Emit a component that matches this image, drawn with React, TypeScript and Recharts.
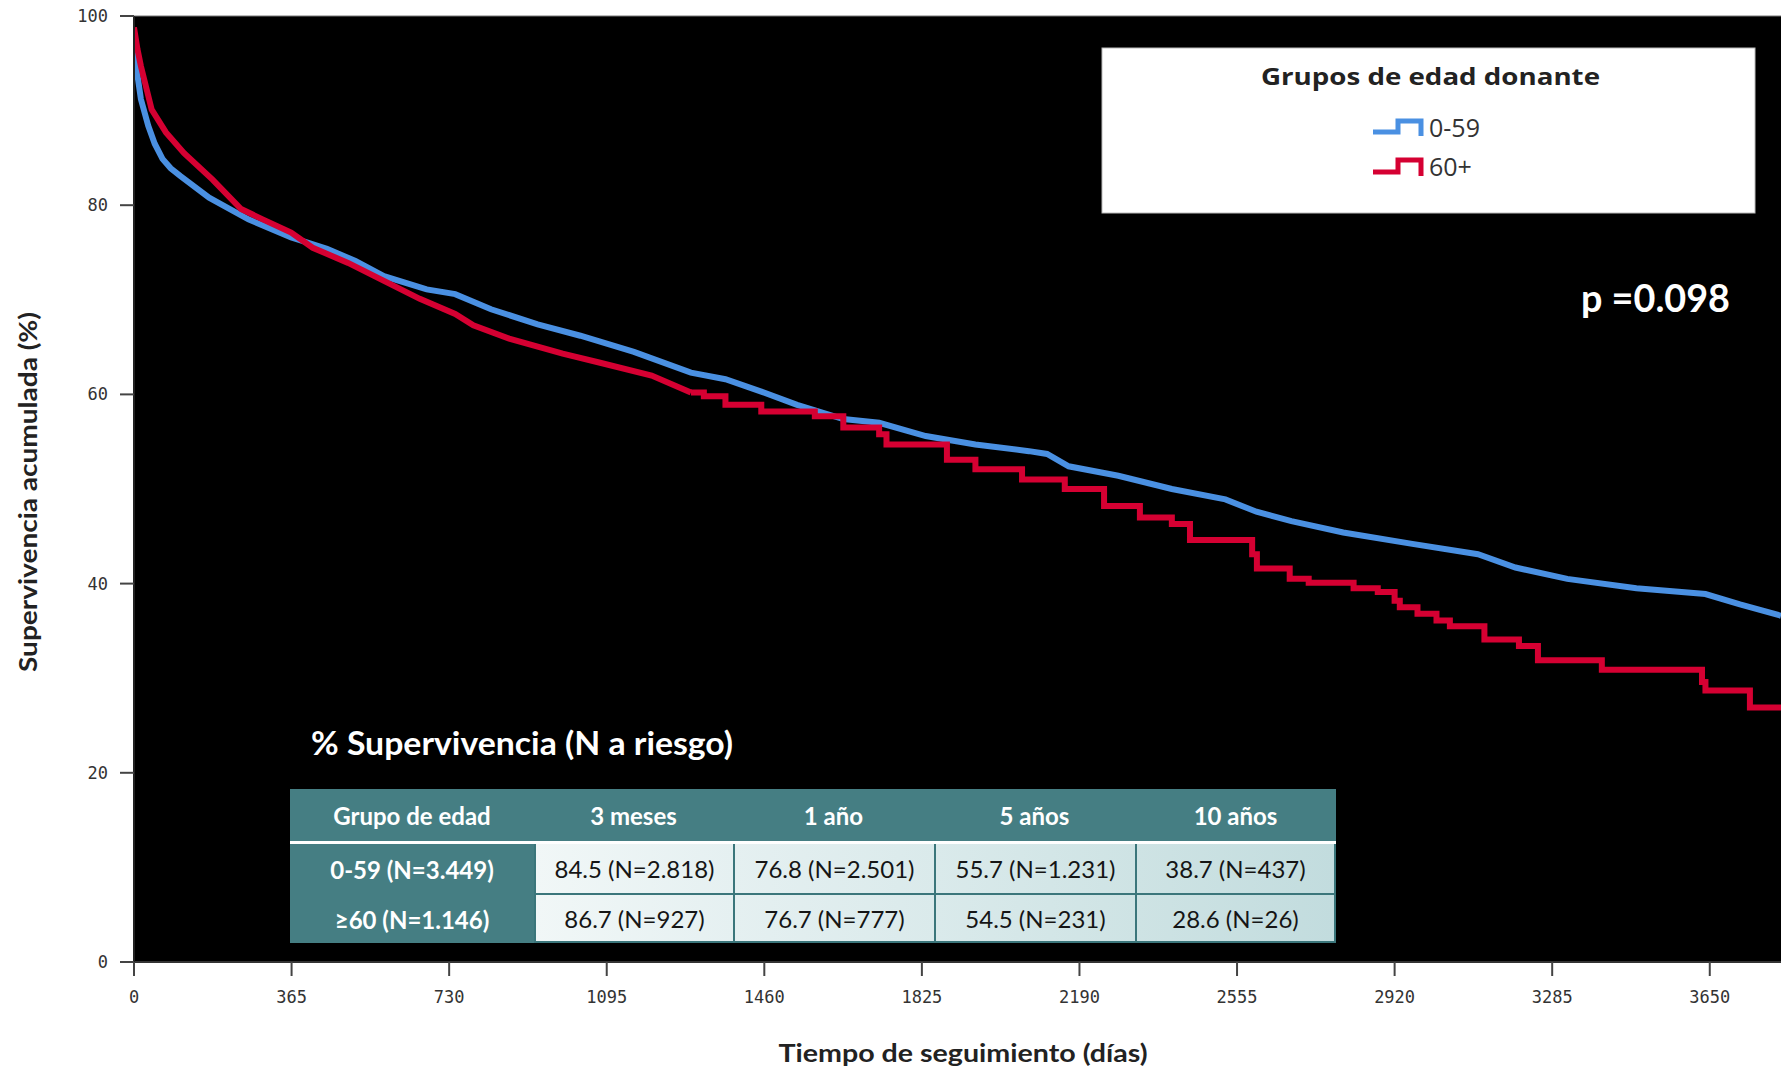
import React from "react";
import { LineChart, Line, XAxis, YAxis, CartesianGrid, ReferenceLine } from "recharts";

// follow-up days and cumulative survival (%)
const dayTicks = [0, 365, 730, 1095, 1460, 1825, 2190, 2555, 2920, 3285, 3650];
const pctTicks = [0, 20, 40, 60, 80, 100];

const youngDays = [0, 4, 16, 33, 48, 66, 85, 107, 174, 265, 364, 447, 513, 579, 678, 744, 827, 935, 1034, 1158, 1290, 1370, 1453, 1536, 1643, 1726, 1834, 1949, 2073, 2115, 2165, 2280, 2404, 2528, 2600, 2681, 2801, 2961, 3113, 3200, 3320, 3480, 3640, 3720, 3815];
const youngSurv = [97.5, 95.0, 91.2, 88.4, 86.5, 84.9, 83.9, 83.1, 80.8, 78.5, 76.6, 75.4, 74.1, 72.5, 71.1, 70.6, 69.0, 67.4, 66.2, 64.5, 62.3, 61.6, 60.3, 58.9, 57.4, 57.0, 55.6, 54.7, 54.0, 53.7, 52.4, 51.4, 50.0, 48.9, 47.6, 46.6, 45.4, 44.2, 43.1, 41.7, 40.5, 39.5, 38.9, 37.8, 36.6];

// 60+ : dense early part, then the visible steps
const oldDays = [0, 8, 16, 41, 74, 116, 182, 248, 298, 364, 414, 496, 579, 662, 744, 786, 869, 993, 1075, 1199, 1290];
const oldSurv = [98.8, 96.5, 94.7, 90.1, 87.7, 85.5, 82.7, 79.6, 78.5, 77.1, 75.5, 73.9, 72.0, 70.1, 68.5, 67.3, 65.9, 64.3, 63.4, 62.0, 60.2];
const oldStepDays = [1290, 1320, 1370, 1453, 1577, 1643, 1726, 1743, 1883, 1949, 2057, 2156, 2247, 2330, 2404, 2446, 2590, 2601, 2677, 2721, 2825, 2881, 2920, 2932, 2973, 3017, 3048, 3128, 3208, 3252, 3400, 3632, 3640, 3743, 3815];
const oldStepSurv = [60.2, 59.8, 58.9, 58.2, 57.7, 56.5, 55.8, 54.7, 53.1, 52.1, 51.0, 50.0, 48.2, 47.0, 46.3, 44.6, 43.1, 41.6, 40.5, 40.1, 39.5, 39.1, 38.2, 37.5, 36.8, 36.1, 35.5, 34.1, 33.4, 31.9, 30.9, 29.6, 28.7, 26.9, 26.9];

const tableHeader = ["Grupo de edad", "3 meses", "1 año", "5 años", "10 años"];
const tableGroups = ["0-59 (N=3.449)", "≥60 (N=1.146)"];
const tableYoung = ["84.5 (N=2.818)", "76.8 (N=2.501)", "55.7 (N=1.231)", "38.7 (N=437)"];
const tableOld = ["86.7 (N=927)", "76.7 (N=777)", "54.5 (N=231)", "28.6 (N=26)"];

const BLUE = "#4A90E2";
const RED = "#D50032";
const TEAL = "#457E83";
const LINE_TEAL = "#3B767B";

const toPoints = (days: number[], vals: number[]) => days.map((d, i) => ({ day: d, surv: vals[i] }));
const young = toPoints(youngDays, youngSurv);
const oldEarly = toPoints(oldDays, oldSurv);
const oldLate = toPoints(oldStepDays, oldStepSurv);

const colW = [244, 199, 201, 201, 201];

function mix(a: number[], b: number[], t: number) {
    const c = a.map((v, i) => Math.round(v + (b[i] - v) * t));
    return `rgb(${c[0]},${c[1]},${c[2]})`;
}
const LIGHT = [241, 247, 247];
const DARK = [194, 220, 222];

function SurvivalTable() {
    const rows = [tableYoung, tableOld];
    const rowH = [51, 48];
    return (
        <div
            style={{
                position: "absolute",
                left: 290,
                top: 789,
                width: 1046,
                height: 154,
                background: TEAL,
                fontFamily: "Lato, 'Open Sans', sans-serif",
                fontSize: 24,
            }}
        >
            <div style={{ display: "flex", height: 52, color: "#fff", fontWeight: 700, fontSize: 24 }}>
                {tableHeader.map((h, i) => (
                    <div key={h} style={{ width: colW[i], display: "flex", alignItems: "center", justifyContent: "center" }}>
                        {h}
                    </div>
                ))}
            </div>
            <div style={{ height: 3, background: "#fff" }} />
            {rows.map((r, ri) => (
                <div key={ri} style={{ display: "flex", height: rowH[ri] }}>
                    <div
                        style={{
                            width: colW[0],
                            display: "flex",
                            alignItems: "center",
                            justifyContent: "center",
                            color: "#fff",
                            fontWeight: 700,
                            fontSize: 24,
                        }}
                    >
                        {tableGroups[ri]}
                    </div>
                    {r.map((v, ci) => (
                        <div
                            key={ci}
                            style={{
                                width: colW[ci + 1],
                                boxSizing: "border-box",
                                borderLeft: `2px solid ${LINE_TEAL}`,
                                borderBottom: `2px solid ${LINE_TEAL}`,
                                borderRight: ci === 3 ? `2px solid ${LINE_TEAL}` : undefined,
                                background: `linear-gradient(90deg, ${mix(LIGHT, DARK, ci / 4)}, ${mix(LIGHT, DARK, (ci + 1) / 4)})`,
                                display: "flex",
                                alignItems: "center",
                                justifyContent: "center",
                                color: "#151515",
                            }}
                        >
                            {v}
                        </div>
                    ))}
                </div>
            ))}
        </div>
    );
}

export default function App() {
    return (
        <div
            style={{
                position: "fixed",
                left: 0,
                top: 0,
                width: 1781,
                height: 1068,
                background: "#fff",
                overflow: "hidden",
            }}
        >
            <LineChart width={1781} height={1068} margin={{ top: 16, right: 0, bottom: 0, left: 0 }}>
                <CartesianGrid horizontal={false} vertical={false} fill="#000" fillOpacity={1} />
                <XAxis
                    type="number"
                    dataKey="day"
                    domain={[0, 3815]}
                    ticks={dayTicks}
                    allowDataOverflow
                    height={106}
                    tickSize={14}
                    tickMargin={15}
                    axisLine={{ stroke: "#333", strokeWidth: 2 }}
                    tickLine={{ stroke: "#444", strokeWidth: 2 }}
                    tick={{ fill: "#333", fontSize: 17, fontFamily: "'DejaVu Sans Mono', monospace" }}
                />
                <YAxis
                    type="number"
                    domain={[0, 100]}
                    ticks={pctTicks}
                    width={134}
                    tickSize={14}
                    tickMargin={12}
                    axisLine={{ stroke: "#222", strokeWidth: 2 }}
                    tickLine={{ stroke: "#444", strokeWidth: 2 }}
                    tick={{ fill: "#333", fontSize: 17, fontFamily: "'DejaVu Sans Mono', monospace" }}
                />
                <ReferenceLine y={100} stroke="#777" strokeWidth={1} />
                <Line data={young} dataKey="surv" type="linear" stroke={BLUE} strokeWidth={6} dot={false} isAnimationActive={false} />
                <Line data={oldEarly} dataKey="surv" type="linear" stroke={RED} strokeWidth={6} dot={false} isAnimationActive={false} />
                <Line data={oldLate} dataKey="surv" type="stepAfter" stroke={RED} strokeWidth={6} dot={false} isAnimationActive={false} />
            </LineChart>

            <svg width={1781} height={1068} style={{ position: "absolute", left: 0, top: 0, pointerEvents: "none" }}>
                <text
                    x={37}
                    y={492}
                    transform="rotate(-90 37 492)"
                    textAnchor="middle"
                    fontFamily="Lato, sans-serif"
                    fontWeight={700}
                    fontSize={24}
                    fill="#222"
                    textLength={360}
                    lengthAdjust="spacingAndGlyphs"
                >
                    Supervivencia acumulada (%)
                </text>
                <text
                    x={963}
                    y={1062}
                    textAnchor="middle"
                    fontFamily="Lato, sans-serif"
                    fontWeight={700}
                    fontSize={25}
                    fill="#222"
                    textLength={369}
                    lengthAdjust="spacingAndGlyphs"
                >
                    Tiempo de seguimiento (días)
                </text>

                {/* legend */}
                <rect x={1102} y={48} width={653} height={165} fill="#fff" stroke="#bbb" strokeWidth={1} />
                <text
                    x={1430.5}
                    y={85}
                    textAnchor="middle"
                    fontFamily="'Open Sans', sans-serif"
                    fontWeight={700}
                    fontSize={24}
                    fill="#222"
                    textLength={339}
                    lengthAdjust="spacingAndGlyphs"
                >
                    Grupos de edad donante
                </text>
                <path d="M1373,132 H1398 V121 H1421 V136" fill="none" stroke={BLUE} strokeWidth={5} />
                <text x={1429} y={137} fontFamily="'Open Sans', sans-serif" fontSize={25} fill="#333">
                    0-59
                </text>
                <path d="M1373,172 H1398 V160 H1421 V176" fill="none" stroke={RED} strokeWidth={5} />
                <text x={1429} y={176} fontFamily="'Open Sans', sans-serif" fontSize={25} fill="#333">
                    60+
                </text>

                <text
                    x={1581}
                    y={312}
                    fontFamily="Lato, sans-serif"
                    fontWeight={700}
                    fontSize={38}
                    fill="#fff"
                    textLength={149}
                    lengthAdjust="spacingAndGlyphs"
                >
                    p =0.098
                </text>
                <text
                    x={311}
                    y={755}
                    fontFamily="Lato, sans-serif"
                    fontWeight={700}
                    fontSize={32}
                    fill="#fff"
                    textLength={422}
                    lengthAdjust="spacingAndGlyphs"
                >
                    % Supervivencia (N a riesgo)
                </text>
            </svg>
            <SurvivalTable />
        </div>
    );
}
